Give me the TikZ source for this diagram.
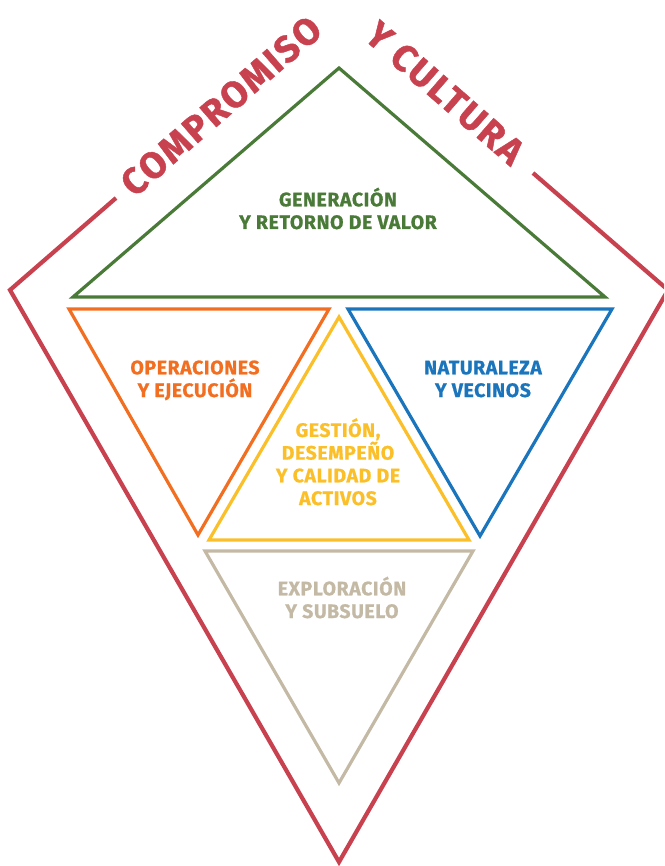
\documentclass[tikz,border=0pt]{standalone}
\usepackage{fontspec}
\setmainfont{Fira Sans}
\newfontfamily\labfont{Fira Sans}[BoldFeatures={FakeBold=0.8}, LetterSpace=3]
\newfontfamily\titlefont{Fira Sans}[BoldFeatures={FakeBold=1.2}, LetterSpace=6]
\definecolor{kred}{HTML}{C8414F}
\definecolor{kgreen}{HTML}{4A7A38}
\definecolor{korange}{HTML}{F26F21}
\definecolor{kblue}{HTML}{1A75BC}
\definecolor{kyellow}{HTML}{FBBF2A}
\definecolor{kbeige}{HTML}{C3B9A4}
\tikzset{
  redline/.style={draw=kred, line width=4.2pt, line join=miter},
  tri/.style={line width=3.2pt, line join=miter},
  lab/.style={font=\labfont\bfseries\fontsize{19.5}{22.7}\selectfont, align=center, anchor=base, inner sep=0pt},
  ttl/.style={text=kred, font=\titlefont\bfseries\fontsize{37}{37}\selectfont, inner sep=0pt, anchor=center}
}
\begin{document}
\begin{tikzpicture}[x=1pt,y=-1pt]
\useasboundingbox (0,0) rectangle (664,866);
\clip (0,0) rectangle (664,866);
% outer kite
\coordinate (rL1) at (116,198);
\coordinate (rL) at (10,290);
\coordinate (rB) at (339,862);
\coordinate (rR) at (668,290);
\coordinate (rR1) at (533,173);
\draw[redline] (rL1) -- (rL) -- (rB) -- (rR) -- (rR1);
\node[ttl, rotate=41] (comp) at (221,106) {COMPROMISO};
\node[ttl, rotate=-41] (cult) at (445,93) {Y CULTURA};
% triangles
\coordinate (g1) at (339,68); \coordinate (g2) at (73,297); \coordinate (g3) at (605,297);
\draw[tri, draw=kgreen] (g1) -- (g2) -- (g3) -- cycle;
\coordinate (o1) at (69,309); \coordinate (o2) at (329,309); \coordinate (o3) at (198,535);
\draw[tri, draw=korange] (o1) -- (o2) -- (o3) -- cycle;
\coordinate (b1) at (348,309); \coordinate (b2) at (612,309); \coordinate (b3) at (480,536);
\draw[tri, draw=kblue] (b1) -- (b2) -- (b3) -- cycle;
\coordinate (y1) at (339,317); \coordinate (y2) at (209,540); \coordinate (y3) at (469,540);
\draw[tri, draw=kyellow] (y1) -- (y2) -- (y3) -- cycle;
\coordinate (e1) at (205,551); \coordinate (e2) at (473,551); \coordinate (e3) at (339,783);
\draw[tri, draw=kbeige] (e1) -- (e2) -- (e3) -- cycle;
% labels (anchor = baseline of last line)
\node[lab, text=kgreen] (tg) at (338,229) {GENERACIÓN\\Y RETORNO DE VALOR};
\node[lab, text=korange] (to) at (195,397) {OPERACIONES\\Y EJECUCIÓN};
\node[lab, text=kblue] (tb) at (483,397) {NATURALEZA\\Y VECINOS};
\node[lab, text=kyellow] (ty) at (338,505) {GESTIÓN,\\DESEMPEÑO\\Y CALIDAD DE\\ACTIVOS};
\node[lab, text=kbeige] (te) at (342,618) {EXPLORACIÓN\\Y SUBSUELO};
\end{tikzpicture}
\end{document}
